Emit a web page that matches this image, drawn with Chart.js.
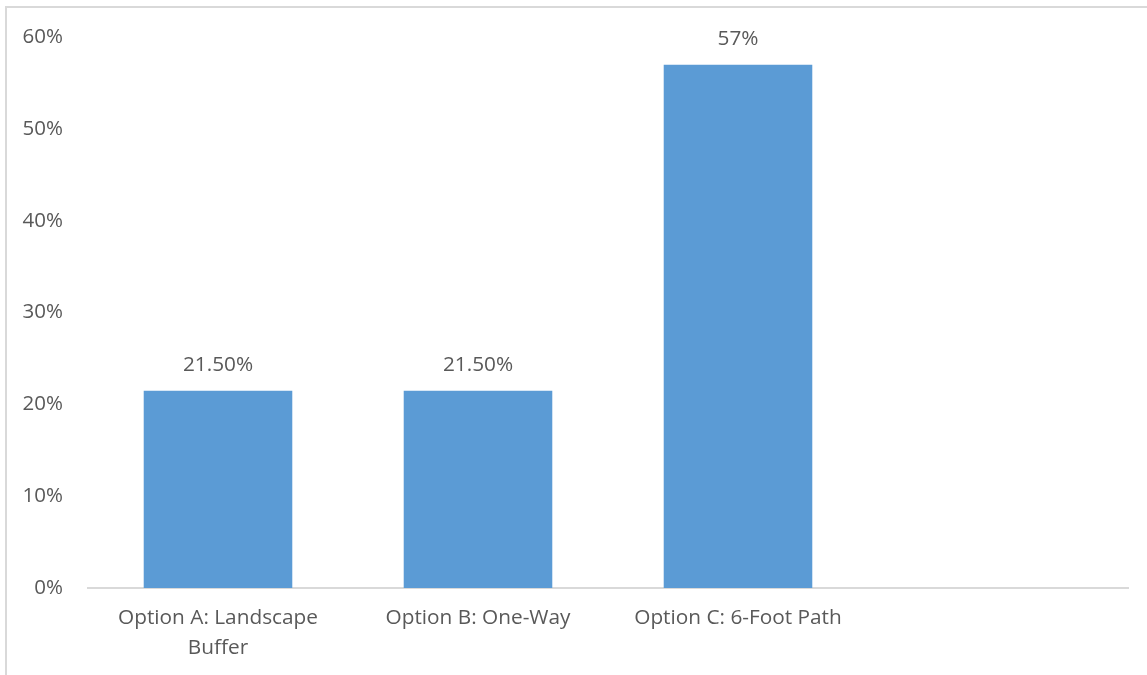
<!DOCTYPE html>
<html>
<head>
<meta charset="utf-8">
<script src="https://cdn.jsdelivr.net/npm/chart.js@4"></script>
<style>
  html, body { margin: 0; padding: 0; background: #fff; }
  #wrap { width: 1147px; height: 675px; position: relative; }
</style>
</head>
<body>
<div id="wrap"><canvas id="chart"></canvas></div>
<script>
// chart data
const categories = [
  ['Option A: Landscape', 'Buffer'],
  'Option B: One-Way',
  'Option C: 6-Foot Path',
  ''
];
const shares = [21.5, 21.5, 57, null];
const shareLabels = ['21.50%', '21.50%', '57%', ''];
const yTicks = [0, 10, 20, 30, 40, 50, 60];

const textColor = '#595959';
const lineColor = '#d9d9d9';
const fontFamily = '"Open Sans", "Liberation Sans", sans-serif';

// frame around the chart (left and top edges visible)
const framePlugin = {
  id: 'frame',
  beforeDraw(chart) {
    const c = chart.ctx;
    c.save();
    c.strokeStyle = lineColor;
    c.lineWidth = 2;
    c.beginPath();
    c.moveTo(6, chart.height);
    c.lineTo(6, 7);
    c.lineTo(chart.width, 7);
    c.stroke();
    c.restore();
  }
};

// value labels above bars
const valueLabels = {
  id: 'valueLabels',
  afterDatasetsDraw(chart) {
    const c = chart.ctx;
    const meta = chart.getDatasetMeta(0);
    c.save();
    c.fillStyle = textColor;
    c.font = '20.8px ' + fontFamily;
    c.textAlign = 'center';
    c.textBaseline = 'middle';
    meta.data.forEach((bar, i) => {
      if (shares[i] == null) return;
      c.fillText(shareLabels[i], bar.x, bar.y - 26);
    });
    c.restore();
  }
};

new Chart(document.getElementById('chart'), {
  type: 'bar',
  data: {
    labels: categories,
    datasets: [{
      data: shares,
      backgroundColor: '#5b9bd5',
      barPercentage: 0.75 / 1.3125,
      categoryPercentage: 1
    }]
  },
  options: {
    responsive: true,
    maintainAspectRatio: false,
    animation: false,
    layout: { padding: { top: 37, right: 19, left: 0, bottom: 0 } },
    plugins: {
      legend: { display: false },
      tooltip: { enabled: false }
    },
    scales: {
      x: {
        grid: { display: false, drawTicks: false },
        border: { display: true, color: lineColor, width: 2 },
        ticks: {
          color: textColor,
          font: { family: fontFamily, size: 20.8, lineHeight: 1.4 },
          padding: 16,
          maxRotation: 0,
          autoSkip: false
        },
        afterFit(scale) { scale.height = 87; }
      },
      y: {
        min: 0,
        max: 60,
        afterBuildTicks(scale) {
          scale.ticks = yTicks.map(v => ({ value: v }));
        },
        grid: { display: false, drawTicks: false },
        border: { display: false },
        ticks: {
          color: textColor,
          font: { family: fontFamily, size: 20.5 },
          padding: 25,
          callback: v => v + '%'
        },
        afterFit(scale) { scale.width = 88; }
      }
    }
  },
  plugins: [framePlugin, valueLabels]
});
</script>
</body>
</html>
